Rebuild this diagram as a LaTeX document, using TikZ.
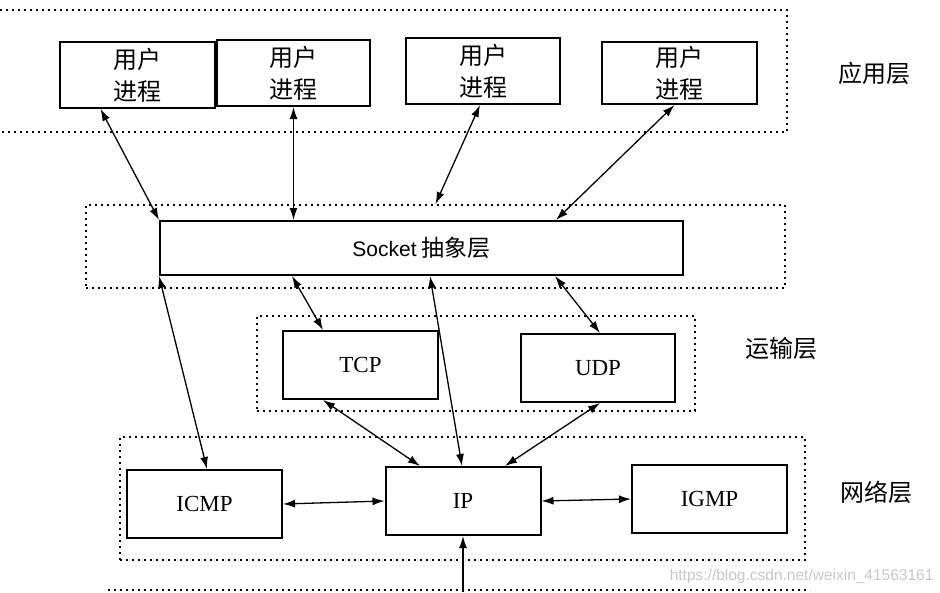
\documentclass[tikz,border=0pt]{standalone}
\usepackage{fontspec}
\setmainfont{Liberation Serif}
\newfontfamily\cjk{Noto Sans CJK SC}
\newfontfamily\lsans{Liberation Sans}
\usetikzlibrary{arrows.meta}
\begin{document}
\begin{tikzpicture}[x=1pt,y=-1pt,
  box/.style={draw,line width=2pt,fill=white,minimum width=155pt,minimum height=66pt,inner sep=0pt,align=center},
  proc/.style={box,font=\cjk\fontsize{24}{32}\selectfont},
  proto/.style={box,font=\fontsize{23}{26}\selectfont},
  layer/.style={draw,line width=2pt,dash pattern=on 2pt off 4pt,inner sep=0pt},
  lab/.style={font=\cjk\fontsize{24}{28}\selectfont},
  link/.style={line width=1.3pt,{Latex[length=12pt,width=8pt]}-{Latex[length=12pt,width=8pt]}},
  uplink/.style={line width=1.3pt,-{Latex[length=12pt,width=8pt]}}]
\useasboundingbox (0,0) rectangle (940,592);
% layer frames
\coordinate (a1) at (0,10);
\coordinate (a2) at (787,10);
\coordinate (a3) at (787,132);
\coordinate (a4) at (0,132);
\draw[line width=2pt,dash pattern=on 2pt off 4pt] (a1) -- (a2) -- (a3) -- (a4);
\node[layer,minimum width=699pt,minimum height=83pt] (sockL) at (435.5,246.5) {};
\node[layer,minimum width=438pt,minimum height=95pt] (transL) at (476,363.5) {};
\node[layer,minimum width=685pt,minimum height=123pt] (netL) at (462.5,498.5) {};
\coordinate (b1) at (108,590);
\coordinate (b2) at (810,590);
\draw[line width=2pt,dash pattern=on 2pt off 4pt] (b1) -- (b2);
% boxes
\node[proc,minimum height=66pt] (u1) at (137.5,75) {用户\\进程};
\node[proc,minimum width=153pt] (u2) at (293.5,73) {用户\\进程};
\node[proc,minimum width=154pt] (u3) at (483,71) {用户\\进程};
\node[proc,minimum height=62pt] (u4) at (679.5,73) {用户\\进程};
\node[box,minimum width=523pt,minimum height=54pt] (sock) at (421.5,248) {{\lsans\fontsize{21}{24}\selectfont Socket}\hspace{5pt}{\cjk\fontsize{23}{26}\selectfont 抽象层}};
\node[proto,minimum height=68pt] (tcp) at (360.5,365) {TCP};
\node[proto,minimum width=154pt,minimum height=68pt] (udp) at (598,368) {UDP};
\node[proto,minimum height=68pt] (icmp) at (204.5,504) {ICMP};
\node[proto,minimum height=68pt] (ip) at (463,501) {IP};
\node[proto,minimum height=68pt] (igmp) at (709.5,499) {IGMP};
% labels
\node[lab] (appT) at (874,73) {应用层};
\node[lab] (traT) at (781,348) {运输层};
\node[lab] (netT) at (876,492) {网络层};
\node[font=\lsans\fontsize{15.5}{18}\selectfont,text=black!22,anchor=east] (wm) at (937,576) {https://blog.csdn.net/weixin\_41563161};
% connectors
\draw[link] ([xshift=-37pt]u1.south) -- (sock.north west);
\draw[link] (u2.south) -- ([xshift=-128pt]sock.north);
\draw[link] ([xshift=-3pt]u3.south) -- (sockL.north);
\draw[link] ([xshift=-5pt]u4.south) -- ([xshift=134.5pt]sock.north);
\draw[link] (sock.south west) -- ([xshift=2.5pt]icmp.north);
\draw[link] ([xshift=-129.5pt]sock.south) -- ([xshift=-37.5pt]tcp.north);
\draw[link] ([xshift=8.5pt]sock.south) -- ([xshift=-1pt]ip.north);
\draw[link] ([xshift=133.5pt]sock.south) -- ([xshift=2pt]udp.north);
\draw[link] ([xshift=-37.5pt]tcp.south) -- ([xshift=-43pt]ip.north);
\draw[link] ([xshift=2pt]udp.south) -- ([xshift=42pt]ip.north);
\draw[link] (icmp.east) -- (ip.west);
\draw[link] (ip.east) -- (igmp.west);
\coordinate (bot) at (463,592);
\draw[uplink] (bot) -- (ip.south);
\end{tikzpicture}
\end{document}
